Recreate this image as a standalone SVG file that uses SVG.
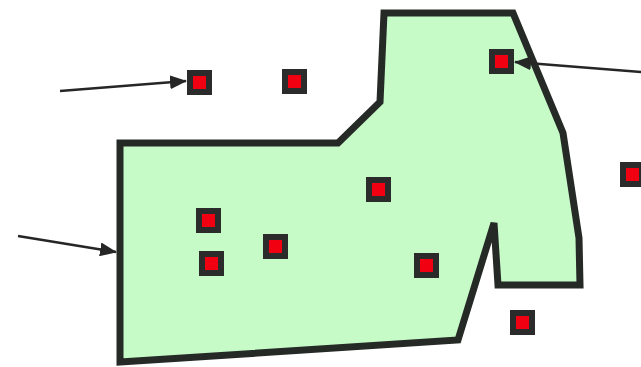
<svg xmlns="http://www.w3.org/2000/svg" width="641" height="367" viewBox="0 0 641 367">
<style>
.region{fill:#c6fbc8;stroke:#262a26;stroke-width:7;stroke-linejoin:miter}
.pt-o{fill:#2b2b2b}
.pt-i{fill:#f00010}
.conn{stroke:#262626;stroke-width:2.5;fill:none}
</style>
<defs>
<marker id="ah" markerWidth="17" markerHeight="14" refX="16" refY="7" orient="auto" markerUnits="userSpaceOnUse">
<path d="M0,0 L17,7 L0,14 Z" fill="#262626"/>
</marker>
</defs>
<rect width="641" height="367" fill="#ffffff"/>
<g id="region">
<path class="region" d="M120,143 L338,143 L380,102 L384,13 L513,13 L563,133 L579,238 L580,285 L498,285 L494,223 L458,340 L120,362 Z"/>
</g>
<g id="connectors">
<line class="conn" x1="60" y1="91" x2="186" y2="81" marker-end="url(#ah)"/>
<line class="conn" x1="641" y1="72" x2="515" y2="62" marker-end="url(#ah)"/>
<line class="conn" x1="18" y1="236" x2="116" y2="252" marker-end="url(#ah)"/>
</g>
<g id="p1"><rect class="pt-o" x="187" y="70" width="25" height="25"/><rect class="pt-i" x="193" y="76" width="13" height="13"/></g>
<g id="p2"><rect class="pt-o" x="282" y="69" width="25" height="25"/><rect class="pt-i" x="288" y="75" width="13" height="13"/></g>
<g id="p3"><rect class="pt-o" x="489" y="49" width="25" height="25"/><rect class="pt-i" x="495" y="55" width="13" height="13"/></g>
<g id="p4"><rect class="pt-o" x="620" y="162" width="25" height="25"/><rect class="pt-i" x="626" y="168" width="13" height="13"/></g>
<g id="p5"><rect class="pt-o" x="366" y="177" width="25" height="25"/><rect class="pt-i" x="372" y="183" width="13" height="13"/></g>
<g id="p6"><rect class="pt-o" x="196" y="208" width="25" height="25"/><rect class="pt-i" x="202" y="214" width="13" height="13"/></g>
<g id="p7"><rect class="pt-o" x="199" y="251" width="25" height="25"/><rect class="pt-i" x="205" y="257" width="13" height="13"/></g>
<g id="p8"><rect class="pt-o" x="263" y="234" width="25" height="25"/><rect class="pt-i" x="269" y="240" width="13" height="13"/></g>
<g id="p9"><rect class="pt-o" x="414" y="253" width="25" height="25"/><rect class="pt-i" x="420" y="259" width="13" height="13"/></g>
<g id="p10"><rect class="pt-o" x="510" y="310" width="25" height="25"/><rect class="pt-i" x="516" y="316" width="13" height="13"/></g>
</svg>
